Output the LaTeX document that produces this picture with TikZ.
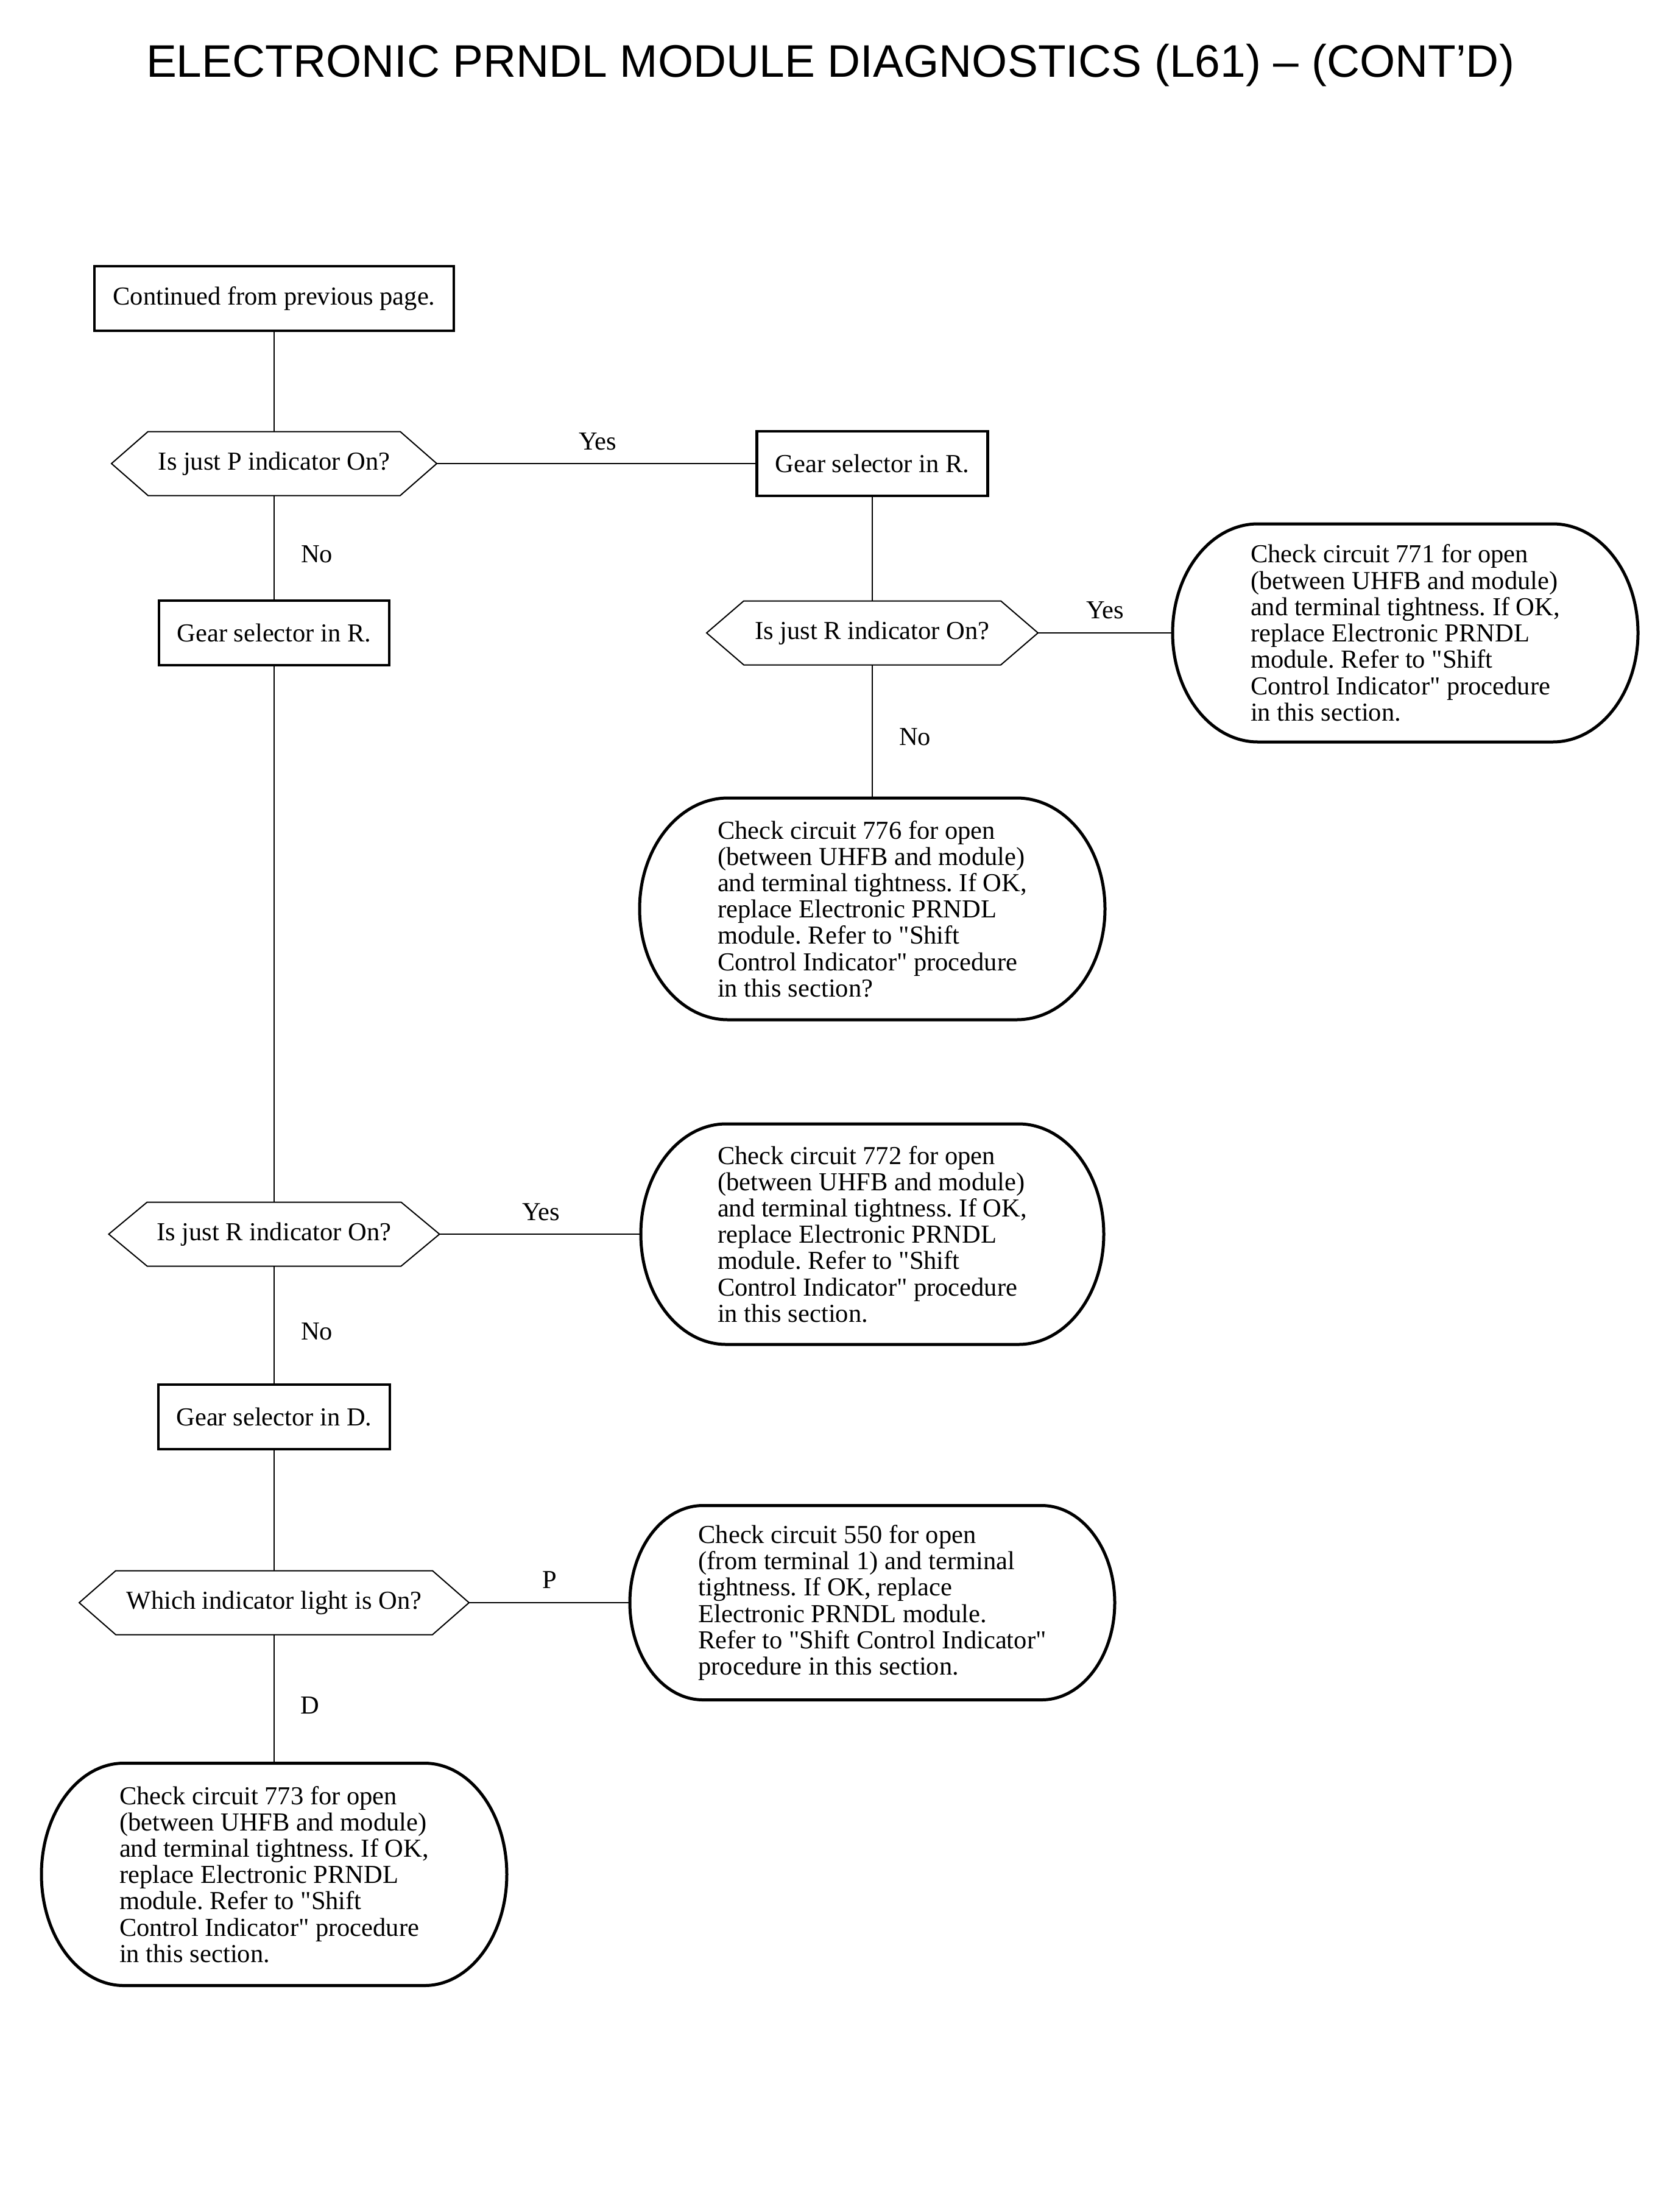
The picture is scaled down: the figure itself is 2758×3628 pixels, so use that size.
\documentclass[tikz,border=0pt]{standalone}
\usepackage{fontspec}
\setmainfont{Liberation Serif}
\newfontfamily\titlefont{Liberation Sans}
\usetikzlibrary{calc}
\newcommand\dq{\XeTeXglyph\XeTeXcharglyph"22\relax}
\tikzset{
  txt/.style={font=\fontsize{12.1}{12.3}\selectfont\frenchspacing},
  rbox/.style={draw, line width=0.45mm, minimum width=#1*0.1mm, minimum height=10.6mm, txt},
  hexn/.style={minimum width=#1*0.1mm, minimum height=10.5mm, txt},
  termn/.style 2 args={minimum width=#1*0.1mm, minimum height=#2*0.1mm, align=left, txt},
  hexline/.style={line width=0.2mm, line join=miter},
  termline/.style={line width=0.5mm},
  conn/.style={line width=0.2mm},
  lbl/.style={txt}
}
\newcommand\hexpath[2]{\draw[hexline] (#1.west) -- ($(#1.north west)+(#2,0)$) -- ($(#1.north east)+(-#2,0)$) -- (#1.east) -- ($(#1.south east)+(-#2,0)$) -- ($(#1.south west)+(#2,0)$) -- cycle;}
\newcommand\termpath[3]{\draw[termline] ($(#1.north west)+(#2,0)$) -- ($(#1.north east)+(-#2,0)$) arc[start angle=90,end angle=-90,x radius=#2*0.1mm,y radius=#3*0.1mm] -- ($(#1.south west)+(#2,0)$) arc[start angle=270,end angle=90,x radius=#2*0.1mm,y radius=#3*0.1mm] -- cycle;}
\begin{document}
\begin{tikzpicture}[x=0.1mm,y=-0.1mm, every node/.style={inner sep=0pt, outer sep=0pt}]
\path[fill=white, use as bounding box] (0,0) rectangle (2758,3628);

\node[anchor=base west, font=\titlefont\fontsize{21.3}{25}\selectfont] (title) at (240,127) {ELECTRONIC PRNDL MODULE DIAGNOSTICS (L61) – (CONT’D)};

% boxes
\node[rbox=590] (start) at (450,490) {Continued from previous page.};
\node[hexn=534] (qP) at (450,761) {Is just P indicator On?};
\node[rbox=379] (gR1) at (1432,761) {Gear selector in R.};
\node[rbox=378] (gR2) at (450,1039) {Gear selector in R.};
\node[hexn=544] (qR1) at (1432,1039) {Is just R indicator On?};
\node[termn={764}{358}] (t771) at (2307,1039) {Check circuit 771 for open\\(between UHFB and module)\\and terminal tightness. If OK,\\replace Electronic PRNDL\\module. Refer to \dq Shift\\Control Indicator\dq{} procedure\\in this section.};
\node[termn={764}{364}] (t776) at (1432,1492) {Check circuit 776 for open\\(between UHFB and module)\\and terminal tightness. If OK,\\replace Electronic PRNDL\\module. Refer to \dq Shift\\Control Indicator\dq{} procedure\\in this section?};
\node[hexn=543] (qR2) at (450,2026) {Is just R indicator On?};
\node[termn={760}{362}] (t772) at (1432,2026) {Check circuit 772 for open\\(between UHFB and module)\\and terminal tightness. If OK,\\replace Electronic PRNDL\\module. Refer to \dq Shift\\Control Indicator\dq{} procedure\\in this section.};
\node[rbox=380] (gD) at (450,2326) {Gear selector in D.};
\node[hexn=640] (qW) at (450,2631) {Which indicator light is On?};
\node[termn={796}{319}] (t550) at (1432,2631) {Check circuit 550 for open\\(from terminal 1) and terminal\\tightness. If OK, replace\\Electronic PRNDL module.\\Refer to \dq Shift Control Indicator\dq\\procedure in this section.};
\node[termn={764}{365}] (t773) at (450,3077) {Check circuit 773 for open\\(between UHFB and module)\\and terminal tightness. If OK,\\replace Electronic PRNDL\\module. Refer to \dq Shift\\Control Indicator\dq{} procedure\\in this section.};

% shapes
\hexpath{qP}{60}
\hexpath{qR1}{61}
\hexpath{qR2}{63}
\hexpath{qW}{60}
\termpath{t771}{140}{179}
\termpath{t776}{145}{182}
\termpath{t772}{140}{181}
\termpath{t550}{120}{159.5}
\termpath{t773}{135}{182.5}

% connectors
\draw[conn] (start.south) -- (qP.north);
\draw[conn] (qP.east) -- (gR1.west);
\draw[conn] (qP.south) -- (gR2.north);
\draw[conn] (gR1.south) -- (qR1.north);
\draw[conn] (qR1.east) -- (t771.west);
\draw[conn] (qR1.south) -- (t776.north);
\draw[conn] (gR2.south) -- (qR2.north);
\draw[conn] (qR2.east) -- (t772.west);
\draw[conn] (qR2.south) -- (gD.north);
\draw[conn] (gD.south) -- (qW.north);
\draw[conn] (qW.east) -- (t550.west);
\draw[conn] (qW.south) -- (t773.north);

% labels
\node[lbl] (l1) at (981,725) {Yes};
\node[lbl] (l2) at (520,910) {No};
\node[lbl] (l3) at (1814,1002) {Yes};
\node[lbl] (l4) at (1502,1210) {No};
\node[lbl] (l5) at (888,1990) {Yes};
\node[lbl] (l6) at (520,2186) {No};
\node[lbl] (l7) at (902,2594) {P};
\node[lbl] (l8) at (509,2800) {D};
\end{tikzpicture}
\end{document}
